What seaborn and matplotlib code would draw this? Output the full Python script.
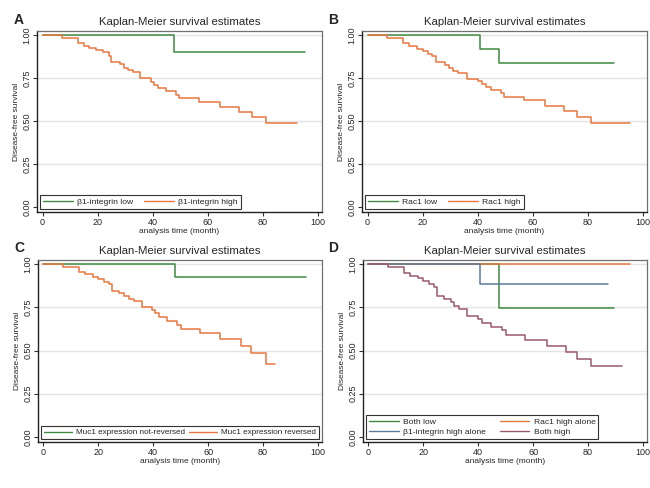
import matplotlib.pyplot as plt
import seaborn as sns
import pandas as pd
from matplotlib.lines import Line2D
from matplotlib.ticker import FormatStrFormatter

# panel A: beta1-integrin
a_low_t = [0, 47.7, 95.5]
a_low_s = [1.0, 0.90, 0.90]
a_high_t = [0, 7, 13, 15, 17, 19.5, 22, 24, 25, 28, 29.5, 31, 33, 35.5, 39.5, 40.5, 42, 45,
            48.5, 49.5, 57, 64.5, 71.5, 76, 81, 92.5]
a_high_s = [1.0, 0.983, 0.953, 0.94, 0.928, 0.915, 0.90, 0.882, 0.847, 0.83, 0.81, 0.797, 0.785,
            0.75, 0.73, 0.71, 0.69, 0.676, 0.653, 0.634, 0.61, 0.58, 0.552, 0.523, 0.488, 0.488]

# panel B: Rac1
b_low_t = [0, 40.7, 47.7, 89.4]
b_low_s = [1.0, 0.92, 0.839, 0.839]
b_high_t = [0, 7, 13, 15, 18, 20, 22, 23.5, 25, 28, 29.5, 31, 33, 36, 40, 41.5, 43, 45,
            48.5, 49.5, 57, 64.5, 71.5, 76, 81, 95.5]
b_high_s = [1.0, 0.983, 0.953, 0.936, 0.922, 0.907, 0.891, 0.88, 0.845, 0.828, 0.812, 0.793,
            0.778, 0.748, 0.734, 0.714, 0.698, 0.684, 0.665, 0.642, 0.62, 0.587, 0.558, 0.523,
            0.486, 0.486]

# panel C: Muc1 expression
c_not_t = [0, 47.8, 95.6]
c_not_s = [1.0, 0.928, 0.928]
c_rev_t = [0, 7, 13, 15, 18, 20, 22, 24, 25, 27.5, 29.5, 31, 33, 36, 39.5, 40.5, 42, 45,
           48.5, 50, 57, 64.5, 72, 75.5, 81, 84.5]
c_rev_s = [1.0, 0.986, 0.957, 0.942, 0.928, 0.914, 0.899, 0.883, 0.848, 0.832, 0.817, 0.80,
           0.786, 0.753, 0.733, 0.719, 0.694, 0.674, 0.649, 0.626, 0.602, 0.567, 0.525, 0.484,
           0.421, 0.421]

# panel D: combined
d_bothlow_t = [0, 47.6, 89.4]
d_bothlow_s = [1.0, 0.747, 0.747]
d_b1_t = [0, 40.7, 87.3]
d_b1_s = [1.0, 0.885, 0.885]
d_rac1_t = [0, 95.2]
d_rac1_s = [1.0, 1.0]
d_bothhigh_t = [0, 7, 13, 15, 18, 20, 22, 24, 25, 27.5, 30, 31, 33, 36, 40, 41.5, 44.5, 48.5,
                50, 57, 65, 72, 76, 81, 92.5]
d_bothhigh_s = [1.0, 0.982, 0.947, 0.934, 0.918, 0.903, 0.883, 0.87, 0.817, 0.797, 0.782,
                0.759, 0.743, 0.701, 0.681, 0.662, 0.637, 0.617, 0.588, 0.564, 0.525, 0.49,
                0.45, 0.408, 0.408]

green = '#3f8a42'
orange = '#e8773f'
blue = '#5b7b9b'
mauve = '#9a5a6a'

sns.set_theme(style='white')
plt.rcParams['font.family'] = ['Liberation Sans', 'DejaVu Sans']

fig = plt.figure(figsize=(6.5, 4.88), dpi=100)
W, H = 650, 488


def add_ax(left, top, right, bottom):
    return fig.add_axes([left / W, 1 - bottom / H, (right - left) / W, (bottom - top) / H])


def draw_panel(ax, letter, lx, ly, groups, draw_order, fs=6.1, cs=1.3, hl=3.5):
    rows = []
    for name, t, s, c in groups:
        rows.append(pd.DataFrame({'time': t, 'surv': s, 'group': name}))
    df = pd.concat(rows, ignore_index=True)
    pal = {name: c for name, t, s, c in groups}
    sns.lineplot(data=df, x='time', y='surv', hue='group', hue_order=draw_order,
                 palette=pal, drawstyle='steps-post', estimator=None, legend=False,
                 linewidth=1.1, ax=ax)
    ax.set_xlim(-2, 101.5)
    ax.set_ylim(-0.03, 1.025)
    ax.set_xticks([0, 20, 40, 60, 80, 100])
    ax.set_yticks([0, 0.25, 0.5, 0.75, 1.0])
    ax.yaxis.set_major_formatter(FormatStrFormatter('%.2f'))
    ax.yaxis.grid(True, color='#e4e4e4', linewidth=1)
    ax.get_ygridlines()[0].set_visible(False)
    ax.tick_params(direction='out', length=3, width=0.8, color='#333333',
                   labelsize=6.5, pad=1, left=True, bottom=True)
    for lab in ax.get_yticklabels():
        lab.set_rotation(90)
        lab.set_va('center')
    for side in ['left', 'bottom']:
        ax.spines[side].set_color('#222222')
        ax.spines[side].set_linewidth(1.0)
    for side in ['top', 'right']:
        ax.spines[side].set_color('#707070')
        ax.spines[side].set_linewidth(0.9)
    ax.set_xlabel('analysis time (month)', fontsize=6, labelpad=1)
    ax.set_ylabel('Disease-free survival', fontsize=6, labelpad=2)
    ax.set_title('Kaplan-Meier survival estimates', fontsize=8.2, pad=4)
    handles = [Line2D([], [], color=c, lw=1.0) for name, t, s, c in groups]
    labels = [name for name, t, s, c in groups]
    leg = ax.legend(handles, labels, loc='lower left', bbox_to_anchor=(0.012, 0.015),
                    borderaxespad=0, ncol=2, fontsize=fs, frameon=True,
                    fancybox=False, framealpha=1, edgecolor='#333333',
                    handlelength=hl, handletextpad=0.5, columnspacing=cs,
                    borderpad=0.35, labelspacing=0.25)
    leg.get_frame().set_linewidth(0.8)
    fig.text(lx / W, 1 - ly / H, letter, fontsize=10, fontweight='bold', ha='left',
             va='baseline')


axA = add_ax(37, 31, 322, 212)
axB = add_ax(362, 31, 647, 212)
axC = add_ax(38, 260, 322, 442)
axD = add_ax(363, 260, 647, 442)

gA = [('β1-integrin low', a_low_t, a_low_s, green),
      ('β1-integrin high', a_high_t, a_high_s, orange)]
draw_panel(axA, 'A', 14, 24, gA, [g[0] for g in gA])

gB = [('Rac1 low', b_low_t, b_low_s, green),
      ('Rac1 high', b_high_t, b_high_s, orange)]
draw_panel(axB, 'B', 328, 24, gB, [g[0] for g in gB])

gC = [('Muc1 expression not-reversed', c_not_t, c_not_s, green),
      ('Muc1 expression reversed', c_rev_t, c_rev_s, orange)]
draw_panel(axC, 'C', 14, 252, gC, [g[0] for g in gC], fs=5.9, cs=0.5, hl=3.4)

gD = [('Both low', d_bothlow_t, d_bothlow_s, green),
      ('β1-integrin high alone', d_b1_t, d_b1_s, blue),
      ('Rac1 high alone', d_rac1_t, d_rac1_s, orange),
      ('Both high', d_bothhigh_t, d_bothhigh_s, mauve)]
draw_panel(axD, 'D', 328, 252, gD,
           ['Both low', 'Rac1 high alone', 'β1-integrin high alone', 'Both high'], cs=1.6)

fig.savefig('out.png', dpi=100)
